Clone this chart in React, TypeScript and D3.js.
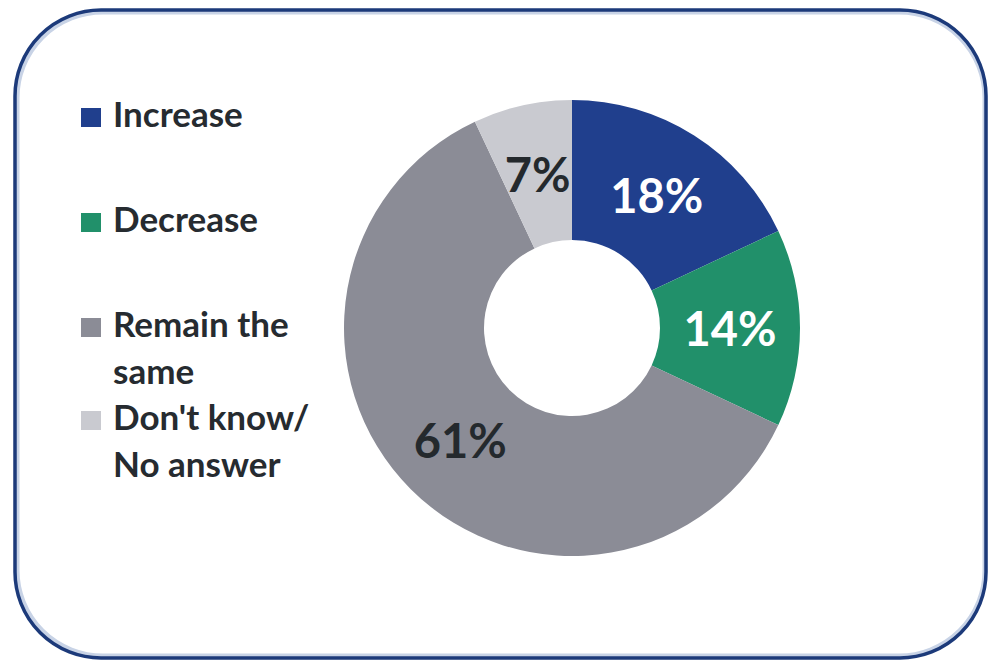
import React from "react";
import * as d3 from "d3";

const categories = ["Increase", "Decrease", "Remain the same", "Don't know/ No answer"];
const values = [18, 14, 61, 7];
const legendLines = [["Increase"], ["Decrease"], ["Remain the", "same"], ["Don't know/", "No answer"]];
const colors = ["#203f8d", "#21906a", "#8b8c96", "#c9cad0"];
const labelColors = ["#ffffff", "#ffffff", "#24292d", "#24292d"];

const W = 988;
const H = 663;

export default function App() {
  const cx = 572;
  const cy = 328;
  const outerR = 228;
  const innerR = 88;
  const pie = d3.pie<number>().sort(null).value((d) => d);
  const arcs = pie(values);
  const arc = d3.arc<d3.PieArcDatum<number>>().innerRadius(innerR).outerRadius(outerR);
  const labelArc = d3.arc<d3.PieArcDatum<number>>().innerRadius(158).outerRadius(158);

  const legendBaselines = [127, 232, 337, 430];
  const font = "Lato, 'Open Sans', sans-serif";

  return (
    <svg
      width={W}
      height={H}
      style={{ position: "absolute", left: 0, top: 0, background: "#ffffff" }}
    >
      <rect x={17} y={12} width={968} height={644} rx={86} ry={86} fill="#ffffff" stroke="#c8d3e6" strokeWidth={5} />
      <rect x={15} y={10} width={971} height={648} rx={86} ry={86} fill="none" stroke="#1c3a7a" strokeWidth={3.5} />
      <g transform={`translate(${cx},${cy})`}>
        {arcs.map((a, i) => (
          <path key={categories[i]} d={arc(a) || ""} fill={colors[i]} />
        ))}
        {arcs.map((a, i) => {
          const [x, y] = labelArc.centroid(a);
          return (
            <text
              key={"l" + i}
              x={x}
              y={y}
              textAnchor="middle"
              dominantBaseline="central"
              fontFamily={font}
              fontWeight={700}
              fontSize={47}
              fill={labelColors[i]}
            >
              {values[i]}%
            </text>
          );
        })}
      </g>
      <g>
        {categories.map((c, i) => {
          const base = legendBaselines[i];
          return (
            <g key={c}>
              <rect x={81} y={base - 19} width={20} height={19} fill={colors[i]} />
              <text fontFamily={font} fontWeight={700} fontSize={35} fill="#262b30">
                {legendLines[i].map((ln, j) => (
                  <tspan key={j} x={113} y={base + j * 47}>
                    {ln}
                  </tspan>
                ))}
              </text>
            </g>
          );
        })}
      </g>
    </svg>
  );
}
